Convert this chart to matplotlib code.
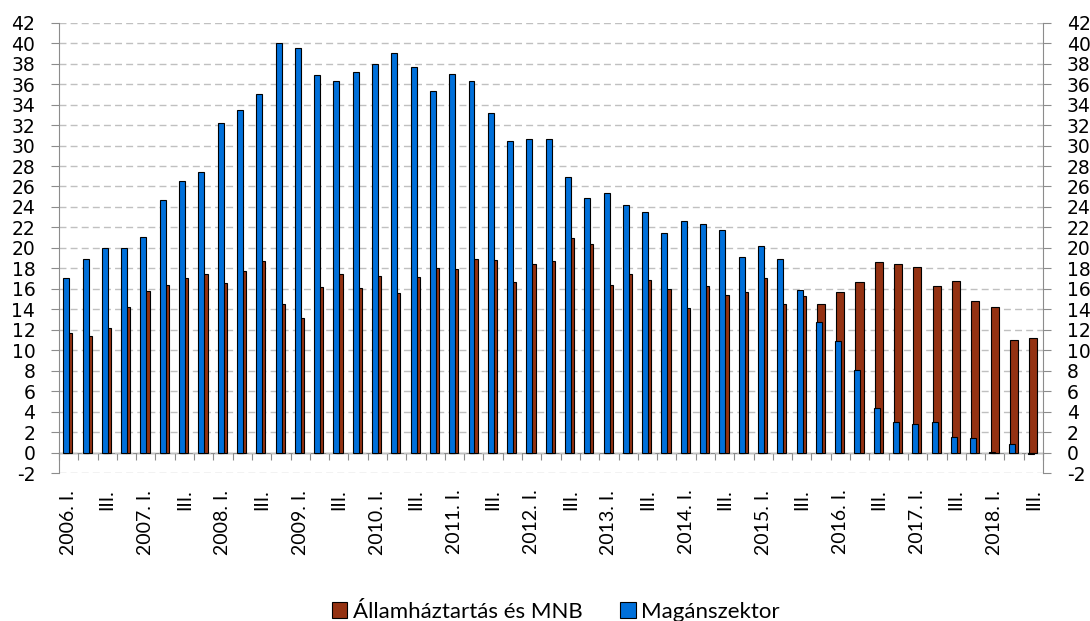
import matplotlib
matplotlib.use('Agg')
import matplotlib.pyplot as plt
from matplotlib.patches import Patch
import numpy as np

# quarters 2006 Q1 .. 2018 Q3
years = list(range(2006, 2019))
roman = ['I.', 'II.', 'III.', 'IV.']
quarters = [(y, q) for y in years for q in roman][:51]
labels = [f'{y}. {q}' if q == 'I.' else q for (y, q) in quarters]

magan = [17.1, 18.9, 20.0, 20.0, 21.1, 24.7, 26.5, 27.4, 32.2, 33.5, 35.0, 40.0,
         39.5, 36.9, 36.3, 37.2, 38.0, 39.0, 37.7, 35.3, 37.0, 36.3, 33.2, 30.4,
         30.6, 30.6, 26.9, 24.9, 25.4, 24.2, 23.5, 21.5, 22.6, 22.3, 21.7, 19.1,
         20.2, 18.9, 15.9, 12.8, 10.9, 8.1, 4.4, 3.0, 2.8, 3.0, 1.5, 1.4,
         0.05, 0.8, -0.15]
allam = [11.7, 11.4, 12.2, 14.2, 15.8, 16.4, 17.1, 17.4, 16.6, 17.7, 18.7, 14.5,
         13.1, 16.2, 17.4, 16.1, 17.3, 15.6, 17.2, 18.0, 17.9, 18.9, 18.8, 16.7,
         18.4, 18.7, 21.0, 20.4, 16.4, 17.4, 16.9, 16.0, 14.1, 16.3, 15.4, 15.7,
         17.1, 14.5, 15.3, 14.5, 15.7, 16.7, 18.6, 18.4, 18.1, 16.3, 16.8, 14.8,
         14.2, 11.0, 11.2]

blue = '#0070DA'
brown = '#943212'
grey = '#8C8C8C'

fig = plt.figure(figsize=(10.9, 6.21), dpi=100)
ax = fig.add_axes([0.0541, 0.2383, 0.9028, 0.7251])

x = np.arange(len(quarters))
ax.bar(x - 0.01, allam, width=0.42, color=brown, edgecolor='black', linewidth=0.8, zorder=3)
ax.bar(x - 0.12, magan, width=0.31, color=blue, edgecolor='black', linewidth=0.8, zorder=4)

ax.set_xlim(-0.5, len(quarters) - 0.5)
ax.set_ylim(-2, 42)
yt = np.arange(-2, 43, 2)
ax.set_yticks(yt)
ax.set_yticklabels([str(v) for v in yt])
ax.grid(axis='y', color='#C0C0C0', linestyle=(0, (5, 3)), linewidth=1.0, zorder=0)

for s in ['top', 'bottom']:
    ax.spines[s].set_visible(False)
for s in ['left', 'right']:
    ax.spines[s].set_color(grey)

ax.tick_params(axis='y', which='both', left=True, right=True, labelleft=True, labelright=True,
               direction='out', length=5.5, color=grey, pad=11.5, labelsize=13.5)

# category labels every second quarter
ax.set_xticks(x[::2])
ax.set_xticklabels(labels[::2], rotation=90, fontsize=14, family='Lato')
ax.tick_params(axis='x', length=0, pad=12)

# zero line with category separators
sec = ax.secondary_xaxis(2 / 44)
sec.set_xticks(np.arange(-0.5, len(quarters), 1.0))
sec.set_xticklabels([])
sec.tick_params(axis='x', direction='out', length=5, color=grey)
sec.spines['bottom'].set_color(grey)
sec.spines['bottom'].set_linewidth(1.0)

handles = [Patch(facecolor=brown, edgecolor='black', linewidth=0.8),
           Patch(facecolor=blue, edgecolor='black', linewidth=0.8)]
fig.legend(handles, ['Államháztartás és MNB', 'Magánszektor'], loc='center',
           bbox_to_anchor=(0.510, 0.015), ncol=2, frameon=False,
           prop={'family': 'Lato', 'size': 16}, handlelength=0.7, handleheight=0.7,
           handletextpad=0.25, columnspacing=1.7, borderpad=0.0)

fig.savefig('out.png', dpi=100)
plt.close(fig)
